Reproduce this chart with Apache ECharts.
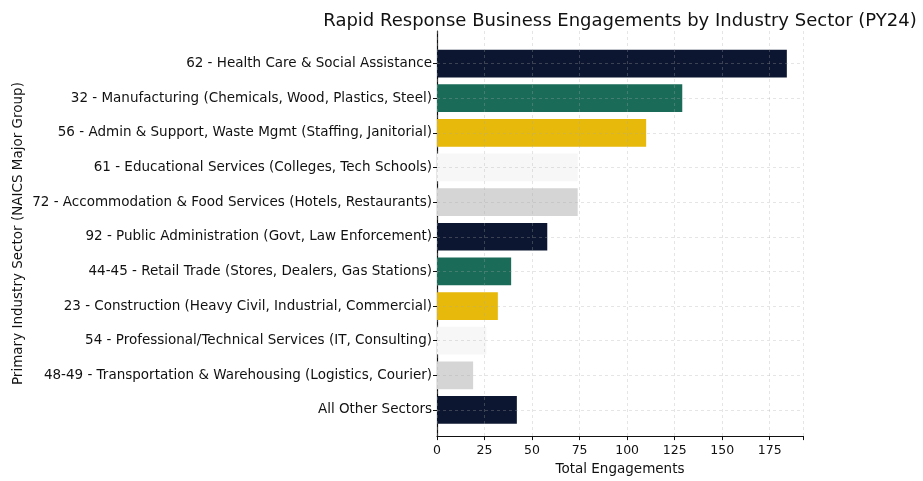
<!DOCTYPE html>
<html>
<head>
<meta charset="utf-8">
<script src="https://cdn.jsdelivr.net/npm/echarts@6/dist/echarts.min.js"></script>
<style>html,body{margin:0;padding:0;background:#fff}#c{width:923px;height:481px}</style>
</head>
<body>
<div id="c"></div>
<script>
const categories = [
  "62 - Health Care & Social Assistance",
  "32 - Manufacturing (Chemicals, Wood, Plastics, Steel)",
  "56 - Admin & Support, Waste Mgmt (Staffing, Janitorial)",
  "61 - Educational Services (Colleges, Tech Schools)",
  "72 - Accommodation & Food Services (Hotels, Restaurants)",
  "92 - Public Administration (Govt, Law Enforcement)",
  "44-45 - Retail Trade (Stores, Dealers, Gas Stations)",
  "23 - Construction (Heavy Civil, Industrial, Commercial)",
  "54 - Professional/Technical Services (IT, Consulting)",
  "48-49 - Transportation & Warehousing (Logistics, Courier)",
  "All Other Sectors"
];
const engagements = [184, 129, 110, 74, 74, 58, 39, 32, 26, 19, 42];
const barColors = ["#0c1630", "#1a6b58", "#e6b90a", "#f7f7f7", "#d5d5d5"];
const xTicks = [0, 25, 50, 75, 100, 125, 150, 175];

const FONT = "DejaVu Sans";
const gridLineStyle = { color: "rgba(170,170,170,0.3)", type: [3, 3], width: 1 };

const chart = echarts.init(document.getElementById("c"), null, { renderer: "canvas" });
chart.setOption({
  backgroundColor: "#ffffff",
  animation: false,
  title: {
    text: "Rapid Response Business Engagements by Industry Sector (PY24)",
    left: 615, top: 7, textAlign: "center",
    textStyle: { fontFamily: FONT, fontSize: 18, fontWeight: "normal", color: "#111" }
  },
  grid: [
    { left: 437, right: 120, top: 31, bottom: 39 },
    { left: 437, right: 120, top: 46.2, bottom: 53.7 }
  ],
  xAxis: [
    {
      gridIndex: 0, type: "value", min: 0, max: 192.5, interval: 25, z: 5,
      name: "Total Engagements", nameLocation: "middle", nameGap: 24,
      nameTextStyle: { fontFamily: FONT, fontSize: 13.5, color: "#111" },
      axisLine: { show: true, lineStyle: { color: "#111", width: 1.2 } },
      axisTick: { show: true, length: 4, lineStyle: { color: "#111" } },
      axisLabel: {
        fontFamily: FONT, fontSize: 12.5, color: "#111", margin: 8,
        formatter: v => (xTicks.indexOf(v) >= 0 ? String(v) : "")
      },
      splitLine: { show: true, lineStyle: gridLineStyle }
    },
    {
      gridIndex: 1, type: "value", min: 0, max: 192.5, show: false,
      splitLine: { show: false }
    }
  ],
  yAxis: [
    {
      gridIndex: 0, type: "value", min: 0, max: 1,
      name: "Primary Industry Sector (NAICS Major Group)", nameLocation: "middle",
      nameGap: 412, nameRotate: 90,
      nameTextStyle: { fontFamily: FONT, fontSize: 13.5, color: "#111" },
      axisLine: { show: true, lineStyle: { color: "#111", width: 1.2 } },
      axisTick: { show: false }, axisLabel: { show: false },
      splitLine: { show: false }
    },
    {
      gridIndex: 1, type: "category", data: categories, inverse: true,
      axisLine: { show: false },
      axisTick: { show: true, alignWithLabel: true, length: 4, lineStyle: { color: "#111" } },
      axisLabel: { fontFamily: FONT, fontSize: 13.5, color: "#111", margin: 5 },
      splitLine: { show: false }
    }
  ],
  series: [{
    type: "bar", xAxisIndex: 1, yAxisIndex: 1,
    data: engagements.map((v, i) => ({ value: v, itemStyle: { color: barColors[i % barColors.length] } })),
    barWidth: "80%",
    markLine: {
      silent: true, symbol: "none", z: 6,
      label: { show: false },
      lineStyle: gridLineStyle,
      data: categories.map(c => ({ yAxis: c }))
    }
  }]
});
</script>
</body>
</html>
